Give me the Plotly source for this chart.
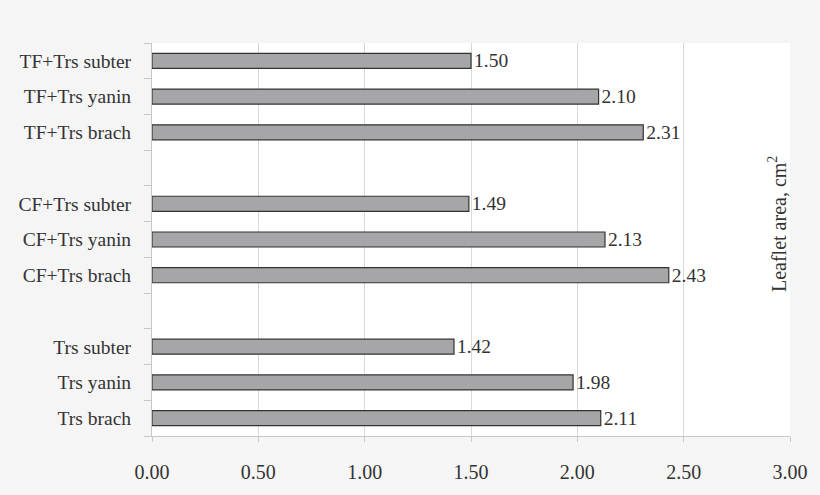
import plotly.graph_objects as go

# bottom-up order, blanks are the gaps between groups
categories = ["Trs brach", "Trs yanin", "Trs subter", " ",
              "CF+Trs brach", "CF+Trs yanin", "CF+Trs subter", "  ",
              "TF+Trs brach", "TF+Trs yanin", "TF+Trs subter"]
values = [2.11, 1.98, 1.42, None,
          2.43, 2.13, 1.49, None,
          2.31, 2.10, 1.50]
x_ticks = [0, 0.5, 1.0, 1.5, 2.0, 2.5, 3.0]
x_ticklabels = ["0.00", "0.50", "1.00", "1.50", "2.00", "2.50", "3.00"]

font = "Liberation Serif, Times New Roman, serif"
labels = ["" if v is None else f"{v:.2f}" for v in values]

fig = go.Figure()
fig.add_trace(go.Bar(
    x=values, y=categories, orientation="h",
    marker=dict(color="#a6a6a9", line=dict(color="#333333", width=1.2)),
    text=labels, textposition="outside", cliponaxis=False,
    constraintext="none",
    textfont=dict(family=font, size=19.5, color="#333333"),
))

fig.update_layout(
    width=820, height=495,
    margin=dict(l=152, r=25, t=43, b=55),
    paper_bgcolor="#f5f5f5", plot_bgcolor="white",
    bargap=0.58, showlegend=False,
    font=dict(family=font, size=19.5, color="#333333"),
)
fig.update_xaxes(
    range=[0, 3], tickvals=x_ticks, ticktext=x_ticklabels,
    showgrid=True, gridcolor="#d9d9d9", gridwidth=1,
    showline=True, linecolor="#c8c8c8", linewidth=1,
    ticks="outside", ticklen=5, tickcolor="#c8c8c8",
    ticklabelstandoff=13, zeroline=False,
    tickfont=dict(family=font, size=20, color="#333333"),
)
fig.update_yaxes(
    type="category", categoryorder="array", categoryarray=categories,
    showline=True, linecolor="#c8c8c8", linewidth=1,
    ticks="outside", tickson="boundaries", ticklen=7, tickcolor="#c8c8c8",
    ticklabelstandoff=16, showgrid=False,
    tickfont=dict(family=font, size=19.5, color="#333333"),
)
fig.add_annotation(
    text="Leaflet area, cm<sup>2</sup>", textangle=-90,
    xref="paper", yref="paper", x=0.98, y=0.54,
    xanchor="center", yanchor="middle",
    showarrow=False, font=dict(family=font, size=20, color="#333333"),
)

fig.write_html("out.html", config={"displayModeBar": False},
               post_script="document.body.style.margin='0';")
